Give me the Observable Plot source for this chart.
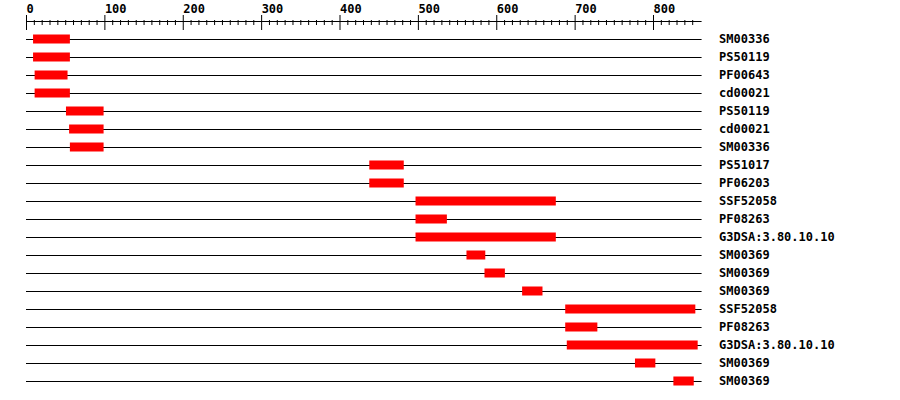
<!DOCTYPE html>
<html>
<head>
<meta charset="utf-8">
<script src="https://cdn.jsdelivr.net/npm/d3@7"></script>
<script src="https://cdn.jsdelivr.net/npm/@observablehq/plot@0.6"></script>
<style>
  html, body { margin: 0; padding: 0; background: #fff; }
</style>
</head>
<body>
<div id="chart"></div>
<script>
const proteinLength = 862;
const labels = ["SM00336","PS50119","PF00643","cd00021","PS50119","cd00021","SM00336","PS51017","PF06203","SSF52058","PF08263","G3DSA:3.80.10.10","SM00369","SM00369","SM00369","SSF52058","PF08263","G3DSA:3.80.10.10","SM00369","SM00369"];
const starts = [9, 9, 11, 11, 51, 55, 56, 438, 438, 497, 497, 497, 562, 585, 633, 688, 688, 690, 777, 826];
const ends   = [56, 56, 53, 56, 99, 99, 99, 482, 482, 676, 537, 676, 586, 611, 659, 854, 729, 857, 803, 852];
const majorTicks = d3.range(0, 801, 100);
const minorTicks = d3.range(0, 851, 10).filter(d => d % 100 !== 0);

const rows = labels.map((label, i) => ({i, label, start: starts[i], end: ends[i]}));

const chart = Plot.plot({
  width: 900,
  height: 400,
  marginTop: 29,
  marginBottom: 0,
  marginLeft: 0,
  marginRight: 0,
  style: {fontFamily: "DejaVu Sans Mono", fontWeight: "bold", fontSize: "12px", background: "#fff", color: "#000"},
  x: {domain: [0, proteinLength], range: [26, 26 + proteinLength * 0.78375], axis: null},
  y: {type: "linear", domain: [0, labels.length - 1], range: [39, 39 + 18 * (labels.length - 1)], axis: null},
  marks: [
    Plot.ruleY([-1], {x1: 0, x2: proteinLength, stroke: "#000", strokeWidth: 1}),
    Plot.axisX({anchor: "top", ticks: majorTicks, tickSize: 15, tickPadding: 1.5, textAnchor: "start", tickFormat: d => String(d), stroke: "#000", fill: "#000", strokeOpacity: 1, fontWeight: "bold"}),
    Plot.axisX({anchor: "top", ticks: minorTicks, tickSize: 5, dy: -5, tickFormat: () => "", stroke: "#000", strokeOpacity: 1}),
    Plot.ruleY(rows, {y: "i", x1: 0, x2: proteinLength, stroke: "#000", strokeWidth: 1}),
    Plot.rect(rows, {x1: "start", x2: "end", y1: d => d.i - 0.25, y2: d => d.i + 0.25, fill: "#ff0000"}),
    Plot.text(rows, {x: () => proteinLength, y: "i", text: "label", dx: 17, textAnchor: "start", fill: "#000", fontWeight: "bold"})
  ]
});
document.getElementById("chart").appendChild(chart);
</script>
</body>
</html>
